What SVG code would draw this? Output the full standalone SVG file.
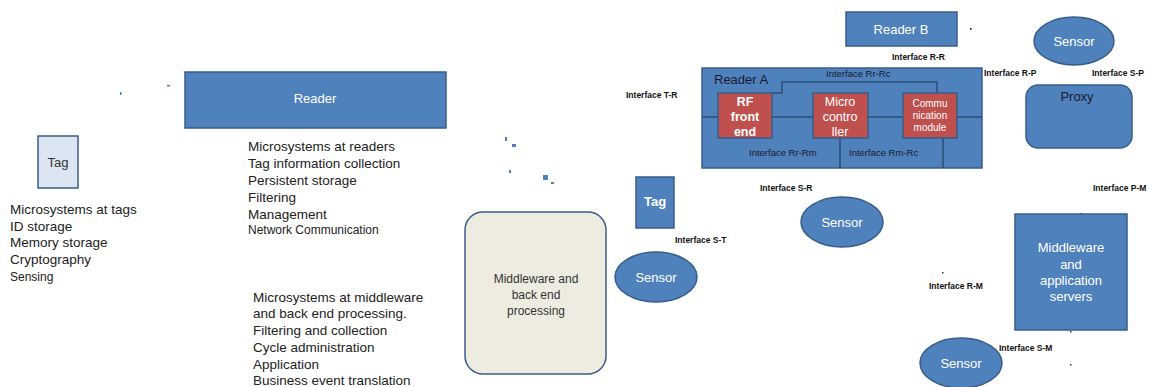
<svg xmlns="http://www.w3.org/2000/svg" width="1160" height="387" viewBox="0 0 1160 387">
<style>
text{font-family:"Liberation Sans","DejaVu Sans",sans-serif}
.blue{fill:#4f81bd;stroke:#385d8a;stroke-width:1.5}
.red{fill:#c0504d;stroke:#385d8a;stroke-width:1.5}
.wt{fill:#ffffff;font-size:13px;text-anchor:middle}
.wtb{fill:#ffffff;font-size:13px;text-anchor:middle;font-weight:bold}
.body{fill:#222;font-size:13.5px}
.ifc{fill:#111;font-size:8.5px;font-weight:bold}
.ifn{fill:#1a1a2e;font-size:9.5px}
.inner{fill:none;stroke:#2c4d75;stroke-width:1.5}
.dot{fill:#4f81bd}
.dk{fill:#333}
</style>

<g id="connectors">
<rect class="dot" x="120" y="92" width="1.5" height="3"/>
<rect class="dot" x="167" y="85" width="3" height="1.5"/>
<rect class="dot" x="505" y="137" width="2" height="4"/>
<rect class="dot" x="512" y="144" width="4" height="3"/>
<rect class="dot" x="509" y="170" width="2" height="3"/>
<rect class="dot" x="543" y="175" width="5" height="5"/>
<rect class="dot" x="551" y="182" width="3" height="2"/>
<rect class="dk" x="970" y="28" width="1.5" height="2"/>
<rect class="dk" x="942" y="272" width="1.5" height="1.5"/>
<rect class="dk" x="1080" y="213" width="1.5" height="1.5"/>
<rect class="dk" x="1070" y="331" width="1.5" height="1.5"/>
<rect class="dk" x="1070" y="364" width="1.5" height="1.5"/>
</g>

<g id="tag-left">
<rect x="38" y="136" width="40" height="52" fill="#dce6f2" stroke="#385d8a" stroke-width="1.5"/>
<text x="58" y="167" text-anchor="middle" font-size="13" fill="#333">Tag</text>
</g>
<g id="tag-text">
<text class="body"><tspan x="10" y="214">Microsystems at tags</tspan><tspan x="10" y="231">ID storage</tspan><tspan x="10" y="247">Memory storage</tspan><tspan x="10" y="264">Cryptography</tspan><tspan x="10" y="281" font-size="12">Sensing</tspan></text>
</g>

<g id="reader">
<rect class="blue" x="185" y="72" width="261" height="56"/>
<text class="wt" x="315" y="103">Reader</text>
</g>
<g id="reader-text">
<text class="body"><tspan x="248" y="151">Microsystems at readers</tspan><tspan x="248" y="168">Tag information collection</tspan><tspan x="248" y="185">Persistent storage</tspan><tspan x="248" y="202">Filtering</tspan><tspan x="248" y="219">Management</tspan><tspan x="248" y="234" font-size="12">Network Communication</tspan></text>
</g>

<g id="middleware">
<rect x="465" y="212" width="141" height="162" rx="18" fill="#eeece1" stroke="#385d8a" stroke-width="1.5"/>
<text x="536" y="283" text-anchor="middle" font-size="12" fill="#333"><tspan x="536" y="283">Middleware and</tspan><tspan x="536" y="299">back end</tspan><tspan x="536" y="315">processing</tspan></text>
</g>
<g id="middleware-text">
<text class="body"><tspan x="253" y="302">Microsystems at middleware</tspan><tspan x="253" y="318">and back end processing.</tspan><tspan x="253" y="335">Filtering and collection</tspan><tspan x="253" y="352">Cycle administration</tspan><tspan x="253" y="369">Application</tspan><tspan x="253" y="385">Business event translation</tspan></text>
</g>

<g id="reader-b">
<rect class="blue" x="846" y="12" width="111" height="34"/>
<text class="wt" x="901" y="34">Reader B</text>
</g>

<g id="reader-a">
<rect class="blue" x="702" y="68" width="280" height="100"/>
<text x="714" y="84" font-size="13" fill="#1a1a2e">Reader A</text>
<polyline class="inner" points="772,93 782,93 782,82 937,82 937,93"/>
<line class="inner" x1="702" y1="117" x2="982" y2="117"/>
<line class="inner" x1="840" y1="138" x2="840" y2="168"/>
<line class="inner" x1="943" y1="138" x2="943" y2="168"/>
<text class="ifn" x="826" y="77">Interface Rr-Rc</text>
<text class="ifn" x="749" y="156">Interface Rr-Rm</text>
<text class="ifn" x="849" y="156">Interface Rm-Rc</text>
</g>
<g id="rf-front-end">
<rect class="red" x="718" y="93" width="54" height="45"/>
<text class="wtb" style="font-size:12.5px"><tspan x="745" y="106">RF</tspan><tspan x="745" y="121">front</tspan><tspan x="745" y="136">end</tspan></text>
</g>
<g id="micro-controller">
<rect class="red" x="813" y="93" width="55" height="45"/>
<text class="wt" style="font-size:12.5px"><tspan x="840" y="106">Micro</tspan><tspan x="840" y="121">contro</tspan><tspan x="840" y="136">ller</tspan></text>
</g>
<g id="comm-module">
<rect class="red" x="903" y="93" width="54" height="45"/>
<text class="wt" style="font-size:10px"><tspan x="930" y="107">Commu</tspan><tspan x="930" y="119">nication</tspan><tspan x="930" y="131">module</tspan></text>
</g>

<g id="sensor-top">
<ellipse class="blue" cx="1074" cy="41" rx="40" ry="24"/>
<text class="wt" x="1074" y="46">Sensor</text>
</g>
<g id="proxy">
<rect class="blue" x="1026" y="85" width="106" height="63" rx="12"/>
<text x="1077" y="101" text-anchor="middle" font-size="13" fill="#1a1a2e">Proxy</text>
</g>
<g id="tag-right">
<rect class="blue" x="636" y="177" width="38" height="51"/>
<text class="wtb" x="655" y="206">Tag</text>
</g>
<g id="sensor-mid">
<ellipse class="blue" cx="842" cy="222" rx="41" ry="25"/>
<text class="wt" x="842" y="227">Sensor</text>
</g>
<g id="sensor-left">
<ellipse class="blue" cx="656" cy="277" rx="41" ry="25"/>
<text class="wt" x="656" y="282">Sensor</text>
</g>
<g id="mw-servers">
<rect class="blue" x="1015" y="214" width="112" height="116"/>
<text class="wt"><tspan x="1071" y="252">Middleware</tspan><tspan x="1071" y="269">and</tspan><tspan x="1071" y="285">application</tspan><tspan x="1071" y="301">servers</tspan></text>
</g>
<g id="sensor-bottom">
<ellipse class="blue" cx="961" cy="363" rx="41" ry="25"/>
<text class="wt" x="961" y="368">Sensor</text>
</g>

<g id="interface-labels">
<text class="ifc" x="626" y="98">Interface T-R</text>
<text class="ifc" x="892" y="60">Interface R-R</text>
<text class="ifc" x="984" y="76">Interface R-P</text>
<text class="ifc" x="1092" y="76">Interface S-P</text>
<text class="ifc" x="760" y="191">Interface S-R</text>
<text class="ifc" x="1093" y="191">Interface P-M</text>
<text class="ifc" x="675" y="243">Interface S-T</text>
<text class="ifc" x="929" y="289">Interface R-M</text>
<text class="ifc" x="999" y="351">Interface S-M</text>
</g>
</svg>
